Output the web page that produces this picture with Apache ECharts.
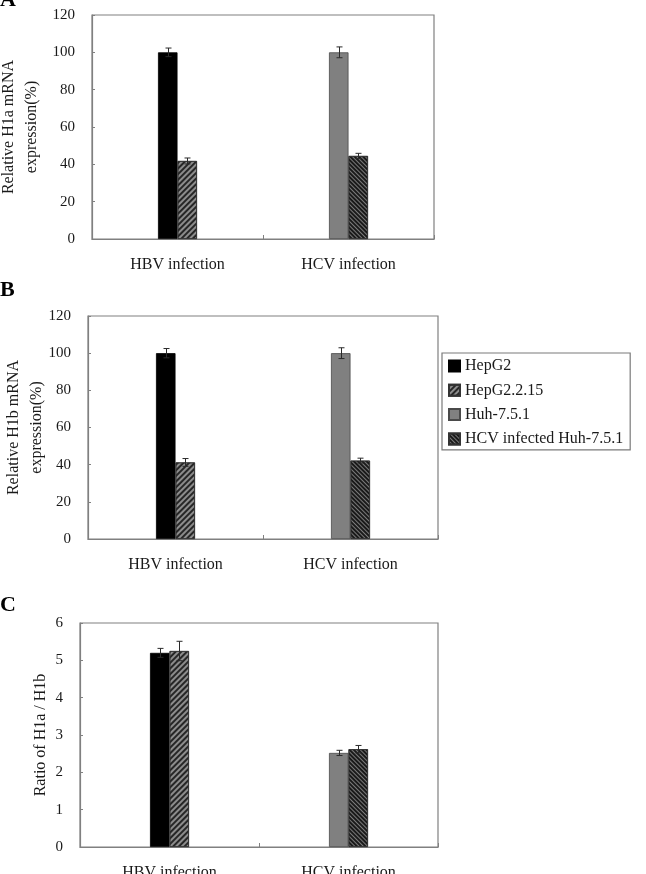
<!DOCTYPE html>
<html>
<head>
<meta charset="utf-8">
<script src="https://cdn.jsdelivr.net/npm/echarts@6/dist/echarts.min.js"></script>
<style>
html,body{margin:0;padding:0;background:#fff;}
#chart{width:646px;height:874px;}
</style>
</head>
<body>
<div id="chart"></div>
<script>
// ---- data ----
const categories = ['HBV infection', 'HCV infection'];
const seriesNames = ['HepG2', 'HepG2.2.15', 'Huh-7.5.1', 'HCV infected Huh-7.5.1'];
// order: HepG2 (HBV), HepG2.2.15 (HBV), Huh-7.5.1 (HCV), HCV infected Huh-7.5.1 (HCV)
const h1aValues = [100, 41.8, 100, 44.5];
const h1aErrors = [2.3, 1.6, 2.9, 1.4];
const h1bValues = [100, 41.2, 100, 42.2];
const h1bErrors = [2.5, 2.1, 2.9, 1.3];
const ratioValues = [5.20, 5.25, 2.52, 2.62];
const ratioErrors = [0.12, 0.26, 0.07, 0.10];
const yTicksPct = [0, 20, 40, 60, 80, 100, 120];
const yTicksRatio = [0, 1, 2, 3, 4, 5, 6];
const panelLabels = ['A', 'B', 'C'];
const yTitles = ['Relative H1a mRNA\nexpression(%)', 'Relative H1b mRNA\nexpression(%)', 'Ratio of H1a / H1b'];

// ---- styles ----
const FONT = 'Liberation Serif';
const BAR_W = 19.5;
const seriesCat = [0, 0, 1, 1];     // which category each series belongs to
const seriesSlot = [-1, 1, -1, 1];  // left or right slot
const seriesStack = ['L', 'R', 'L', 'R'];
const styles = [
  {color: '#000000', borderColor: '#000000', borderWidth: 0.8},
  {color: '#8c8c8c', borderColor: '#333333', borderWidth: 0.8,
   decal: {symbol: 'rect', symbolSize: 1, dashArrayX: [1, 0], dashArrayY: [1.1, 1.1], rotation: -Math.PI / 4, color: '#262626'}},
  {color: '#808080', borderColor: '#4a4a4a', borderWidth: 0.8},
  {color: '#7a7a7a', borderColor: '#333333', borderWidth: 0.8,
   decal: {symbol: 'rect', symbolSize: 1, dashArrayX: [1, 0], dashArrayY: [1.2, 1.0], rotation: Math.PI / 4, color: '#1a1a1a'}}
];

const grids = [
  {left: 92, right: 212, top: 15, bottom: 635},
  {left: 88, right: 208, top: 316, bottom: 335},
  {left: 80, right: 208, top: 623, bottom: 27}
];
const nameGaps = [49, 40, 28];
const panels = [
  {vals: h1aValues, errs: h1aErrors, ticks: yTicksPct},
  {vals: h1bValues, errs: h1bErrors, ticks: yTicksPct},
  {vals: ratioValues, errs: ratioErrors, ticks: yTicksRatio}
];

const option = {
  backgroundColor: '#ffffff',
  animation: false,
  title: [
    {text: panelLabels[0], left: 0, top: -11},
    {text: panelLabels[1], left: 0, top: 279},
    {text: panelLabels[2], left: 0, top: 594}
  ].map(t => Object.assign(t, {padding: 0, textStyle: {fontFamily: FONT, fontWeight: 'bold', fontSize: 22, color: '#000'}})),
  legend: {
    data: seriesNames,
    orient: 'vertical',
    left: 442, top: 353,
    padding: [5, 7, 3, 6],
    itemWidth: 11, itemHeight: 11, itemGap: 8.3, itemTextGap: 4,
    icon: 'rect',
    borderColor: '#7a7a7a', borderWidth: 1.2,
    selectedMode: false,
    textStyle: {fontFamily: FONT, fontSize: 16, color: '#1a1a1a', lineHeight: 16}
  },
  grid: grids.map(g => Object.assign({show: true, borderColor: '#808080', borderWidth: 1.2, containLabel: false, outerBoundsMode: 'none'}, g)),
  xAxis: grids.map((g, i) => ({
    type: 'category', gridIndex: i, data: categories,
    axisLine: {show: true, lineStyle: {color: '#808080', width: 1.2}},
    axisTick: {show: true, inside: true, length: 4, lineStyle: {color: '#808080'}},
    axisLabel: {fontFamily: FONT, fontSize: 16, color: '#1a1a1a', margin: 18},
    splitLine: {show: false}
  })),
  yAxis: panels.map((p, i) => ({
    type: 'value', gridIndex: i,
    min: p.ticks[0], max: p.ticks[p.ticks.length - 1], interval: p.ticks[1] - p.ticks[0],
    name: yTitles[i], nameLocation: 'middle', nameRotate: 90, nameGap: nameGaps[i],
    nameMoveOverlap: false,
    nameTextStyle: {fontFamily: FONT, fontSize: 16, color: '#1a1a1a', lineHeight: 23},
    axisLine: {show: true, lineStyle: {color: '#808080', width: 1.2}},
    axisTick: {show: true, inside: true, length: 3, lineStyle: {color: '#808080'}},
    axisLabel: {fontFamily: FONT, fontSize: 15, color: '#1a1a1a', margin: 17},
    splitLine: {show: false}
  })),
  series: []
};

panels.forEach((p, pi) => {
  seriesNames.forEach((name, si) => {
    const data = categories.map((c, ci) => ci === seriesCat[si] ? p.vals[si] : '-');
    option.series.push({
      type: 'bar', name: name, xAxisIndex: pi, yAxisIndex: pi,
      stack: seriesStack[si] + pi, barWidth: BAR_W, barGap: '0%',
      data: data, itemStyle: styles[si], emphasis: {disabled: true}
    });
  });
  const errData = seriesNames.map((n, si) => [seriesCat[si], p.vals[si], p.errs[si], seriesSlot[si]]);
  option.series.push({
    type: 'custom', name: 'err' + pi, xAxisIndex: pi, yAxisIndex: pi, z: 10,
    encode: {x: 0, y: 1}, data: errData, silent: true,
    renderItem: function (params, api) {
      const ci = api.value(0), v = api.value(1), e = api.value(2), slot = api.value(3);
      const base = api.coord([ci, v]);
      const x = Math.round(base[0] + slot * BAR_W / 2) + 0.5;
      const yT = api.coord([ci, v + e])[1];
      const yB = api.coord([ci, v - e])[1];
      const st = {stroke: '#2a2a2a', lineWidth: 1};
      return {type: 'group', children: [
        {type: 'line', shape: {x1: x, y1: yT, x2: x, y2: yB}, style: st},
        {type: 'line', shape: {x1: x - 3, y1: yT, x2: x + 3, y2: yT}, style: st},
        {type: 'line', shape: {x1: x - 3, y1: yB, x2: x + 3, y2: yB}, style: st}
      ]};
    }
  });
});

const chart = echarts.init(document.getElementById('chart'), null, {renderer: 'canvas'});
chart.setOption(option);
</script>
</body>
</html>
